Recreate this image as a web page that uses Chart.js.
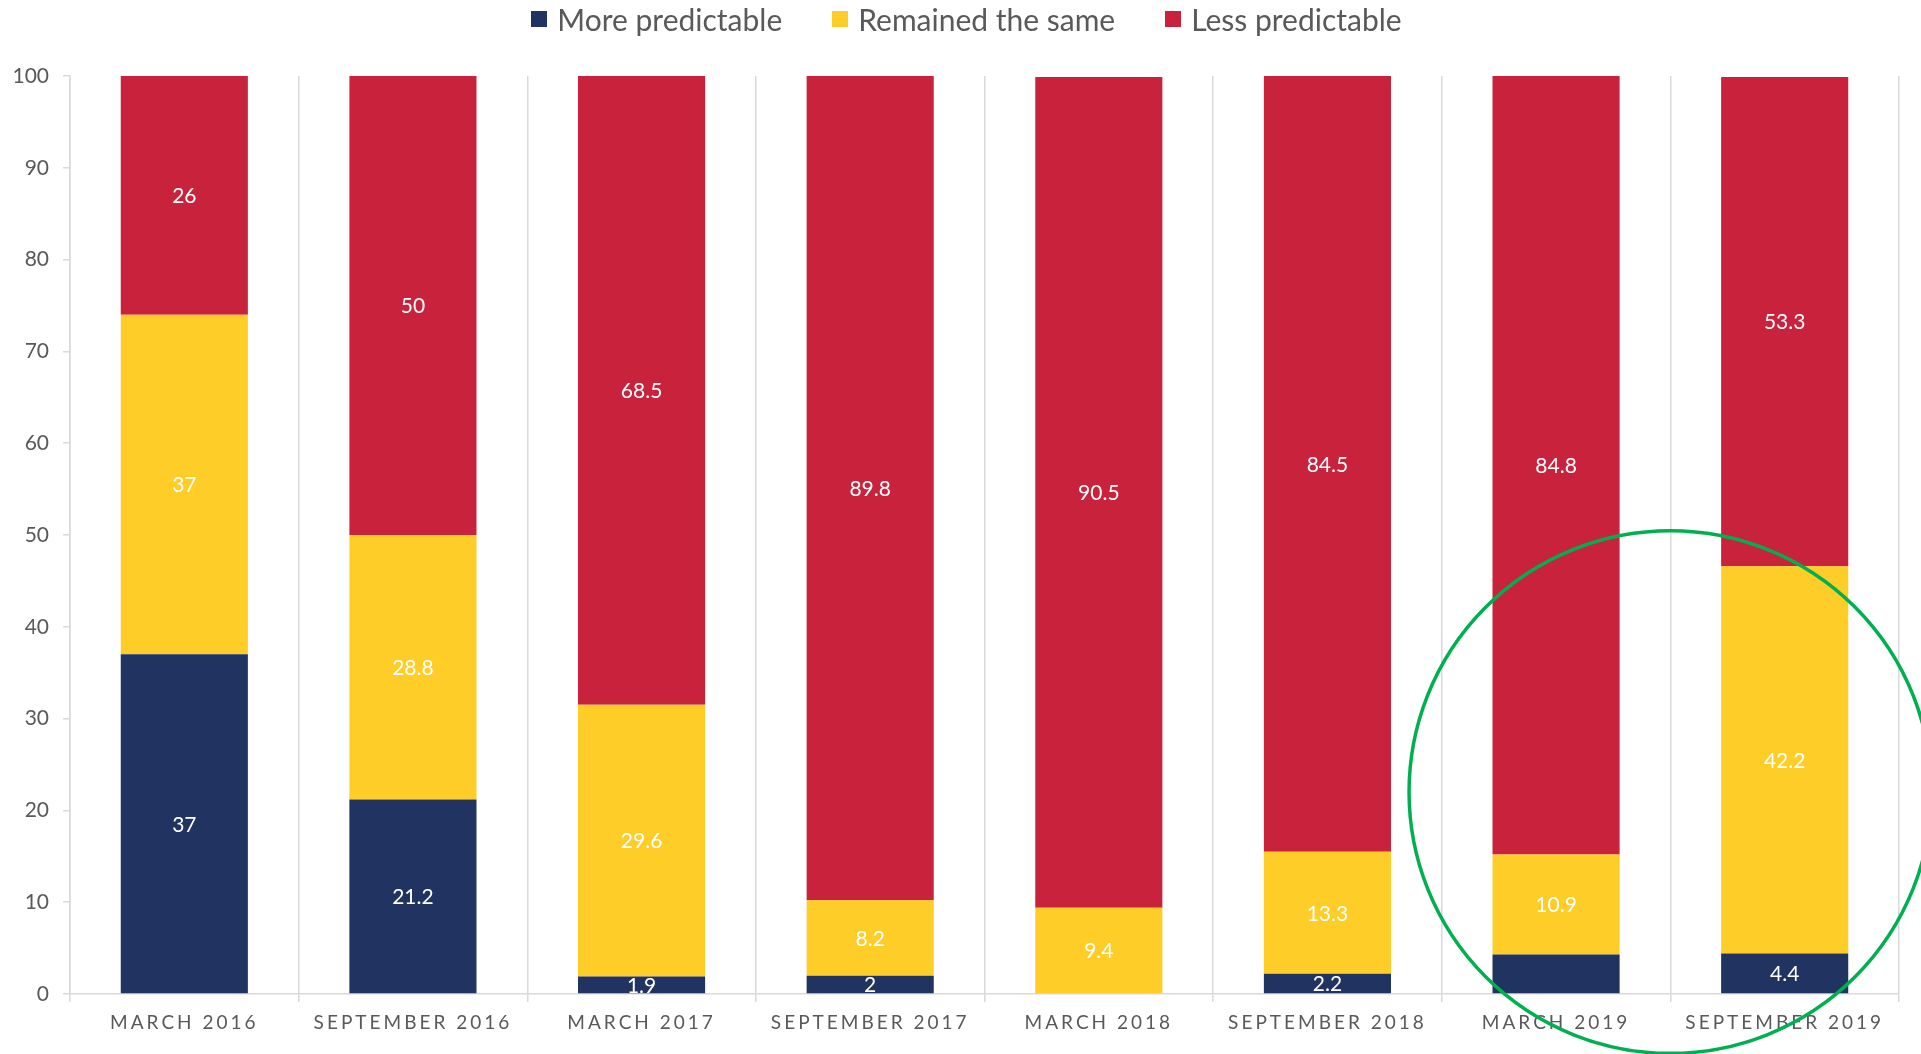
<!DOCTYPE html>
<html>
<head>
<meta charset="utf-8">
<script src="https://cdn.jsdelivr.net/npm/chart.js@4.4.0/dist/chart.umd.min.js"></script>
<style>
  html, body { margin: 0; padding: 0; background: #fff; }
  #wrap { position: relative; width: 1921px; height: 1054px; }
  #legend {
    position: absolute; top: 0; left: 0; width: 1921px; height: 38px;
    display: flex; justify-content: center; align-items: center;
    font-family: Lato, sans-serif; font-size: 30px; color: #595959;
    transform: translateX(6px);
  }
  #legend .item { display: flex; align-items: center; margin: 0 25px; }
  #legend .box { width: 16px; height: 16px; margin-right: 10px; }
</style>
</head>
<body>
<div id="wrap">
  <div id="legend"></div>
  <canvas id="myChart" width="1921" height="1054"></canvas>
</div>
<script>
const categories = ['MARCH 2016', 'SEPTEMBER 2016', 'MARCH 2017', 'SEPTEMBER 2017',
  'MARCH 2018', 'SEPTEMBER 2018', 'MARCH 2019', 'SEPTEMBER 2019'];
const morePredictable = [37, 21.2, 1.9, 2, null, 2.2, 4.3, 4.4];
const remainedSame = [37, 28.8, 29.6, 8.2, 9.4, 13.3, 10.9, 42.2];
const lessPredictable = [26, 50, 68.5, 89.8, 90.5, 84.5, 84.8, 53.3];
// value labels the original leaves out: [dataset, index]
const hiddenLabels = [[0, 6]];

const colors = ['#213360', '#FFCD27', '#C9223D'];
const grey = '#595959';
const gridGrey = '#D9D9D9';

Chart.defaults.font.family = 'Lato, sans-serif';
Chart.defaults.color = grey;

const valueLabels = {
  id: 'valueLabels',
  afterDatasetsDraw(chart) {
    const ctx = chart.ctx;
    ctx.save();
    ctx.fillStyle = '#fff';
    ctx.font = '21px Lato, sans-serif';
    ctx.textAlign = 'center';
    ctx.textBaseline = 'middle';
    chart.data.datasets.forEach((ds, di) => {
      const meta = chart.getDatasetMeta(di);
      meta.data.forEach((bar, i) => {
        const v = ds.data[i];
        if (v == null) return;
        if (hiddenLabels.some(h => h[0] === di && h[1] === i)) return;
        const { x, y, base } = bar.getProps(['x', 'y', 'base'], true);
        ctx.fillText(String(v), x, (y + base) / 2 + 1);
      });
    });
    ctx.restore();
  },
};

// green ring around the last two periods
const highlight = {
  id: 'highlight',
  afterDraw(chart) {
    const xs = chart.scales.x, ys = chart.scales.y;
    const step = xs.getPixelForValue(7) - xs.getPixelForValue(6);
    const cx = (xs.getPixelForValue(6) + xs.getPixelForValue(7)) / 2;
    const cy = ys.getPixelForValue(22);
    const ctx = chart.ctx;
    ctx.save();
    ctx.strokeStyle = '#00B050';
    ctx.lineWidth = 3.5;
    ctx.beginPath();
    ctx.arc(cx, cy, step * 1.143, 0, Math.PI * 2);
    ctx.stroke();
    ctx.restore();
  },
};

// letter-spaced category labels
const spacedTicks = {
  id: 'spacedTicks',
  beforeDraw(chart) {
    const sc = chart.scales.x;
    if (sc._spaced) return;
    const orig = sc.drawLabels;
    sc.drawLabels = function (area) {
      this.ctx.save();
      this.ctx.letterSpacing = '3px';
      orig.call(this, area);
      this.ctx.restore();
    };
    sc._spaced = true;
  },
};

const htmlLegend = {
  id: 'htmlLegend',
  afterUpdate(chart) {
    const el = document.getElementById('legend');
    el.innerHTML = '';
    chart.data.datasets.forEach(ds => {
      const item = document.createElement('div');
      item.className = 'item';
      const box = document.createElement('span');
      box.className = 'box';
      box.style.background = ds.backgroundColor;
      const txt = document.createElement('span');
      txt.textContent = ds.label;
      item.appendChild(box);
      item.appendChild(txt);
      el.appendChild(item);
    });
  },
};

new Chart(document.getElementById('myChart'), {
  type: 'bar',
  data: {
    labels: categories,
    datasets: [
      { label: 'More predictable', data: morePredictable, backgroundColor: colors[0] },
      { label: 'Remained the same', data: remainedSame, backgroundColor: colors[1] },
      { label: 'Less predictable', data: lessPredictable, backgroundColor: colors[2] },
    ],
  },
  options: {
    responsive: false,
    animation: false,
    layout: { padding: { top: 76, right: 22, bottom: 0, left: 0 } },
    datasets: { bar: { categoryPercentage: 1, barPercentage: 0.556 } },
    plugins: {
      legend: { display: false },
      tooltip: { enabled: false },
    },
    scales: {
      x: {
        stacked: true,
        grid: { color: gridGrey, lineWidth: 1.5, tickLength: 8, offset: true },
        border: { color: gridGrey, width: 1.5 },
        ticks: { font: { size: 19 }, color: grey, padding: 9, maxRotation: 0, autoSkip: false },
        afterFit(scale) { scale.height = 60; },
      },
      y: {
        stacked: true,
        min: 0,
        max: 100,
        grid: { display: true, drawOnChartArea: false, color: gridGrey, lineWidth: 1.5, tickLength: 7 },
        border: { color: gridGrey, width: 1.5 },
        ticks: { stepSize: 10, font: { size: 21 }, color: grey, padding: 14 },
        afterFit(scale) { scale.width = 70; },
      },
    },
  },
  plugins: [valueLabels, highlight, spacedTicks, htmlLegend],
});
</script>
</body>
</html>
